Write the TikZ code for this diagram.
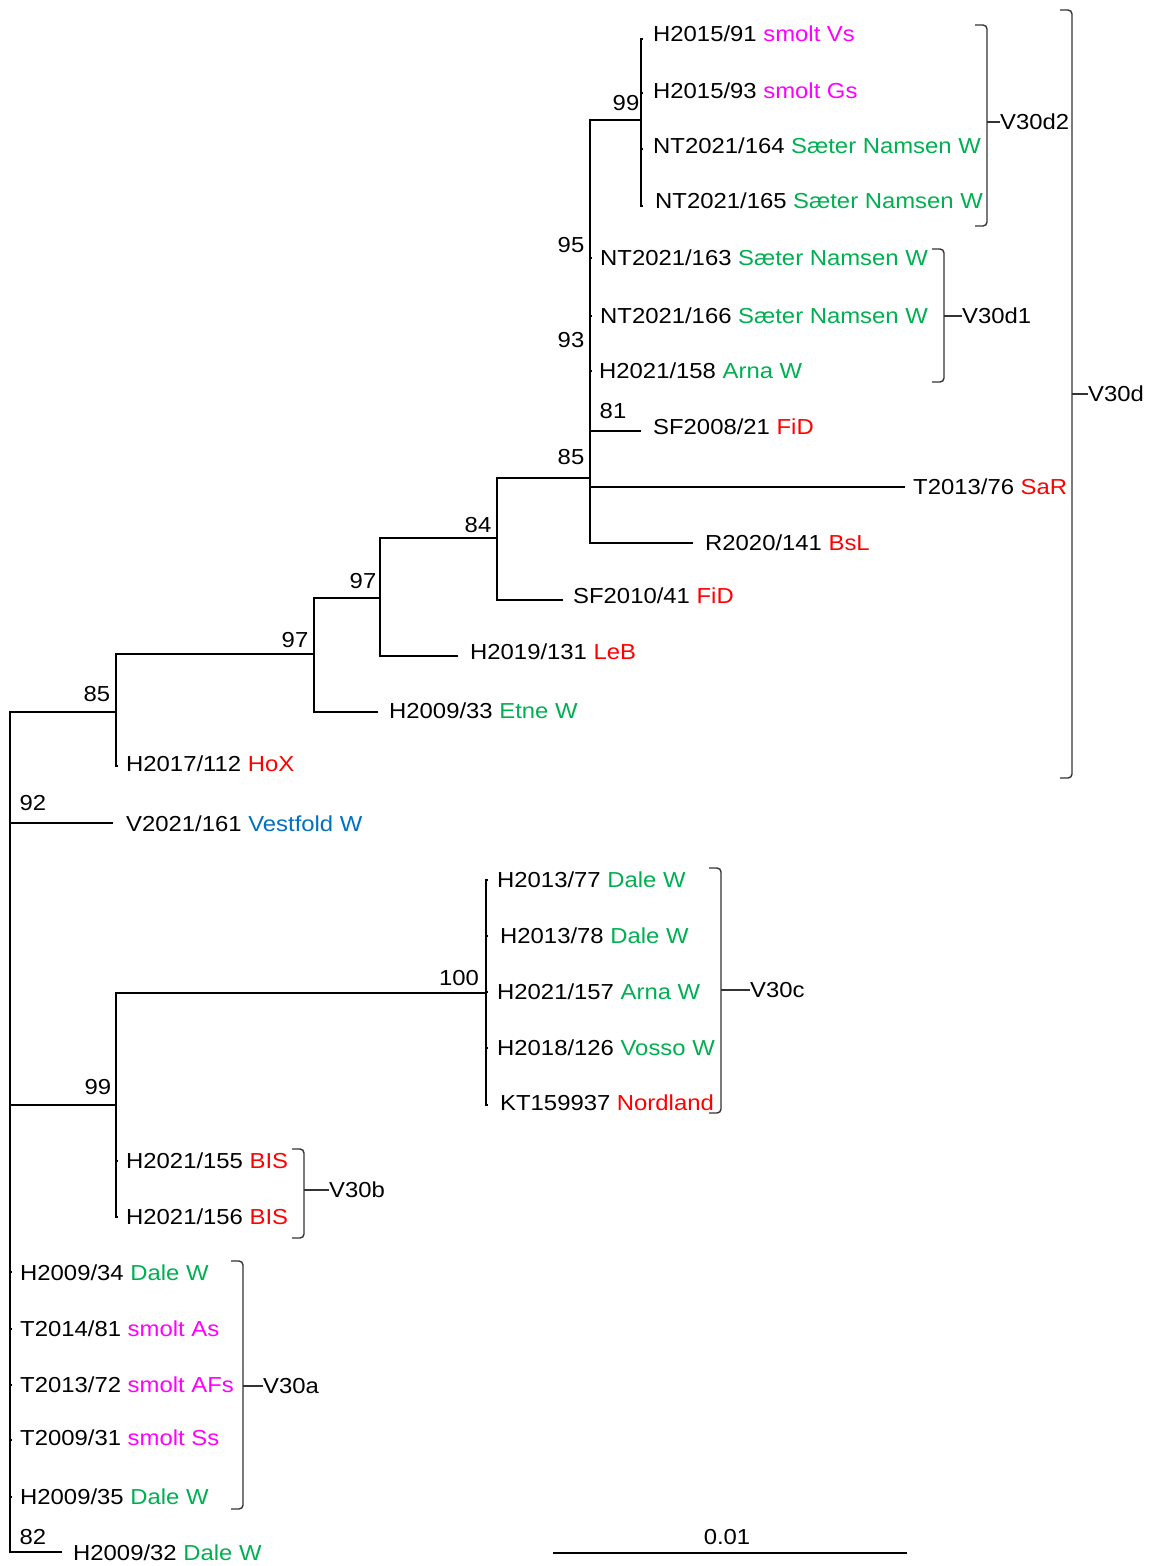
\documentclass[tikz,border=0pt]{standalone}
\usepackage{fontspec}
\setmainfont{Liberation Sans}[FakeStretch=1.10]
\definecolor{cmag}{HTML}{FF00FF}
\definecolor{cgrn}{HTML}{00B050}
\definecolor{cred}{HTML}{FF0000}
\definecolor{cblu}{HTML}{0070C0}
\newcommand{\tmag}[1]{\textcolor{cmag}{#1}}
\newcommand{\tgrn}[1]{\textcolor{cgrn}{#1}}
\newcommand{\tred}[1]{\textcolor{cred}{#1}}
\newcommand{\tblu}[1]{\textcolor{cblu}{#1}}
\tikzset{
  edge/.style={draw=black, line width=1.4pt},
  tax/.style={anchor=base west, inner sep=0pt},
  bs/.style={anchor=center, inner sep=0pt},
  brk/.style={draw=black!80, line width=1.4pt, rounded corners=4pt},
  cladelab/.style={anchor=west, inner sep=0pt},
}
% bracket: name, x, top, bottom, mid, label x, text
\newcommand{\cladebr}[7]{%
  \draw[brk] (#2-12,#3) -- (#2,#3) -- (#2,#4) -- (#2-12,#4);
  \coordinate (#1m) at (#2,#5);
  \node[cladelab] (#1) at (#6,#5) {#7};
  \draw[brk] (#1m) -- (#1.west);
}
\begin{document}
\begin{tikzpicture}[x=1pt,y=-1pt,font=\fontsize{21.7}{24}\selectfont]
\useasboundingbox (0,0) rectangle (1150,1566);
% internal nodes
\coordinate (R) at (10,1105);
\coordinate (A) at (116,712);
\coordinate (B) at (314,654);
\coordinate (C) at (380,598);
\coordinate (D) at (497,538);
\coordinate (E) at (590,478);
\coordinate (F) at (641,120);
\coordinate (G) at (116,1105);
\coordinate (H) at (486,993);
% tips
\coordinate (p1) at (643,39);
\coordinate (p2) at (643,93);
\coordinate (p3) at (643,149);
\coordinate (p4) at (643,206);
\coordinate (p5) at (592,258);
\coordinate (p6) at (592,316);
\coordinate (p7) at (592,371);
\coordinate (p8) at (641,431);
\coordinate (p9) at (905,487);
\coordinate (p10) at (693,543);
\coordinate (p11) at (563,600);
\coordinate (p12) at (458,656);
\coordinate (p13) at (378,712);
\coordinate (p14) at (118,766);
\coordinate (p15) at (113,823);
\coordinate (p16) at (488,880);
\coordinate (p17) at (488,936);
\coordinate (p18) at (488,992);
\coordinate (p19) at (488,1048);
\coordinate (p20) at (488,1105);
\coordinate (p21) at (118,1161);
\coordinate (p22) at (118,1217);
\coordinate (p23) at (12,1272);
\coordinate (p24) at (12,1329);
\coordinate (p25) at (12,1385);
\coordinate (p26) at (12,1440);
\coordinate (p27) at (12,1497);
\coordinate (p28) at (62,1552);
% edges
\foreach \c/\p in {A/R,p15/R,G/R,p23/R,p24/R,p25/R,p26/R,p27/R,p28/R,
  B/A,p14/A,C/B,p13/B,D/C,p12/C,E/D,p11/D,
  F/E,p5/E,p6/E,p7/E,p8/E,p9/E,p10/E,
  p1/F,p2/F,p3/F,p4/F,
  H/G,p21/G,p22/G,
  p16/H,p17/H,p18/H,p19/H,p20/H}
  \draw[edge] (\c) -| (\p);
% taxa
\node[tax] (t1) at (653,41.5) {H2015/91 \tmag{smolt Vs}};
\node[tax] (t2) at (653,98.5) {H2015/93 \tmag{smolt Gs}};
\node[tax] (t3) at (653,153.5) {NT2021/164 \tgrn{Sæter Namsen W}};
\node[tax] (t4) at (655,208.5) {NT2021/165 \tgrn{Sæter Namsen W}};
\node[tax] (t5) at (600,265.5) {NT2021/163 \tgrn{Sæter Namsen W}};
\node[tax] (t6) at (600,323.5) {NT2021/166 \tgrn{Sæter Namsen W}};
\node[tax] (t7) at (599,378.5) {H2021/158 \tgrn{Arna W}};
\node[tax] (t8) at (653,434.5) {SF2008/21 \tred{FiD}};
\node[tax] (t9) at (913,494.5) {T2013/76 \tred{SaR}};
\node[tax] (t10) at (705,550.5) {R2020/141 \tred{BsL}};
\node[tax] (t11) at (573,603.5) {SF2010/41 \tred{FiD}};
\node[tax] (t12) at (470,659.5) {H2019/131 \tred{LeB}};
\node[tax] (t13) at (389,718.5) {H2009/33 \tgrn{Etne W}};
\node[tax] (t14) at (126,771.5) {H2017/112 \tred{HoX}};
\node[tax] (t15) at (126,831.5) {V2021/161 \tblu{Vestfold W}};
\node[tax] (t16) at (497,887.5) {H2013/77 \tgrn{Dale W}};
\node[tax] (t17) at (500,943.5) {H2013/78 \tgrn{Dale W}};
\node[tax] (t18) at (497,999.5) {H2021/157 \tgrn{Arna W}};
\node[tax] (t19) at (497,1055.5) {H2018/126 \tgrn{Vosso W}};
\node[tax] (t20) at (500,1110.5) {KT159937 \tred{Nordland}};
\node[tax] (t21) at (126,1168.5) {H2021/155 \tred{BIS}};
\node[tax] (t22) at (126,1224.5) {H2021/156 \tred{BIS}};
\node[tax] (t23) at (20,1280.5) {H2009/34 \tgrn{Dale W}};
\node[tax] (t24) at (20,1336.5) {T2014/81 \tmag{smolt As}};
\node[tax] (t25) at (20,1392.5) {T2013/72 \tmag{smolt AFs}};
\node[tax] (t26) at (20,1445.5) {T2009/31 \tmag{smolt Ss}};
\node[tax] (t27) at (20,1504.5) {H2009/35 \tgrn{Dale W}};
\node[tax] (t28) at (73,1560.5) {H2009/32 \tgrn{Dale W}};
% bootstrap values
\node[bs] (b1) at (626,103) {99};
\node[bs] (b2) at (571,245) {95};
\node[bs] (b3) at (571,340) {93};
\node[bs] (b4) at (613,411) {81};
\node[bs] (b5) at (571,457) {85};
\node[bs] (b6) at (478,525) {84};
\node[bs] (b7) at (363,581) {97};
\node[bs] (b8) at (295,640) {97};
\node[bs] (b9) at (97,694) {85};
\node[bs] (b10) at (33,803) {92};
\node[bs] (b11) at (459,978) {100};
\node[bs] (b12) at (98,1087) {99};
\node[bs] (b13) at (33,1537) {82};
% clade brackets
\cladebr{V30d2}{987}{25}{226}{122}{1000}{V30d2}
\cladebr{V30d1}{944}{249}{382}{316}{962}{V30d1}
\cladebr{V30d}{1072}{10}{778}{394}{1088}{V30d}
\cladebr{V30c}{721}{868}{1113}{990}{750}{V30c}
\cladebr{V30b}{304}{1149}{1238}{1190}{329}{V30b}
\cladebr{V30a}{243}{1261}{1509}{1386}{263}{V30a}
% scale bar
\coordinate (s1) at (553,1553);
\coordinate (s2) at (907,1553);
\draw[edge] (s1) -- (s2);
\node[bs] (sl) at (727,1537) {0.01};
\end{tikzpicture}
\end{document}
